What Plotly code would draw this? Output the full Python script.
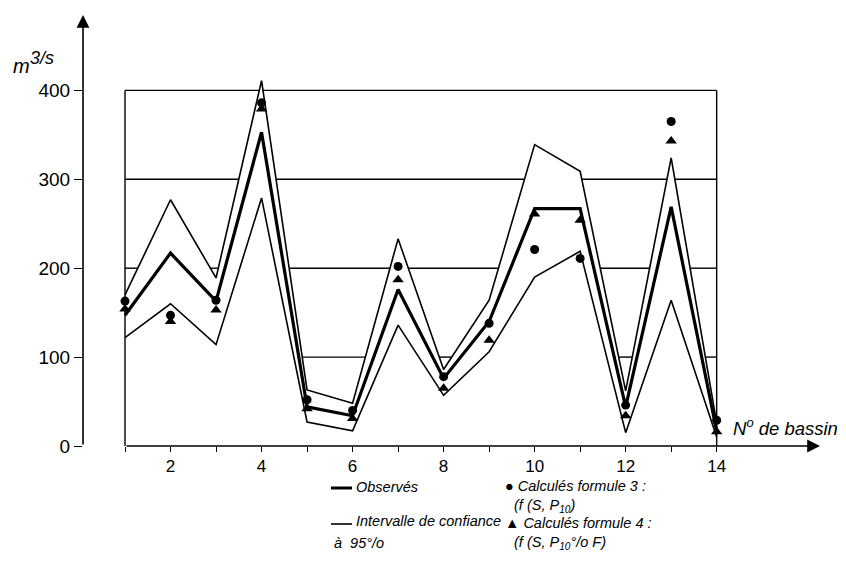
import plotly.graph_objects as go

# ---------------- data ----------------
basin = list(range(1, 15))
observed = [147, 217, 163, 353, 44, 34, 176, 76, 140, 267, 267, 44, 269, 17]
upper95 = [170, 277, 189, 411, 63, 48, 233, 86, 164, 339, 309, 62, 324, 26]
lower95 = [122, 160, 114, 279, 27, 17, 136, 57, 106, 190, 219, 15, 164, 10]
calc_f3 = [163, 147, 164, 386, 52, 40, 202, 78, 138, 221, 211, 46, 365, 29]
calc_f4 = [154, 140, 153, 379, 42, 31, 187, 65, 119, 261, 254, 34, 343, 16]
y_ticks = [0, 100, 200, 300, 400]
x_major = [b for b in basin if b % 2 == 0]
x_minor = [b for b in basin if b % 2 == 1]

# ---------------- layout geometry ----------------
W, H = 846, 566
L, R, T, B = 83, 26, 15, 120
XR = [0.077, 16.27]
YR = [0, 484.8]

def px(xpix):
    return (xpix - L) / (W - L - R)

def py(ypix):
    return (H - B - ypix) / (H - T - B)

FONT = "Liberation Sans, Arial, Helvetica, sans-serif"


def grid_segments(level, xs, ys):
    """x-intervals where the horizontal line y=level lies above the polyline (xs, ys)."""
    segs = []
    cur = None
    for i in range(len(xs) - 1):
        x0, x1, y0, y1 = xs[i], xs[i + 1], ys[i], ys[i + 1]
        if y0 < level and y1 < level:
            a, b = x0, x1
        elif y0 >= level and y1 >= level:
            a = b = None
        else:
            xc = x0 + (level - y0) * (x1 - x0) / (y1 - y0)
            a, b = (x0, xc) if y0 < level else (xc, x1)
        if a is None:
            if cur:
                segs.append(cur)
                cur = None
            continue
        if cur and abs(cur[1] - a) < 1e-9:
            cur = (cur[0], b)
        else:
            if cur:
                segs.append(cur)
            cur = (a, b)
        if b < x1 - 1e-9:
            segs.append(cur)
            cur = None
    if cur:
        segs.append(cur)
    return segs


fig = go.Figure()

fig.add_trace(go.Scatter(x=basin, y=upper95, mode="lines",
                         line=dict(color="black", width=1.6),
                         hoverinfo="skip", showlegend=False))
fig.add_trace(go.Scatter(x=basin, y=lower95, mode="lines",
                         line=dict(color="black", width=1.6),
                         hoverinfo="skip", showlegend=False))
fig.add_trace(go.Scatter(x=basin, y=observed, mode="lines",
                         line=dict(color="black", width=3.2),
                         showlegend=False))
fig.add_trace(go.Scatter(x=basin, y=calc_f4, mode="markers",
                         marker=dict(symbol="triangle-up", size=10, color="black"),
                         showlegend=False))
fig.add_trace(go.Scatter(x=basin, y=calc_f3, mode="markers",
                         marker=dict(symbol="circle", size=9, color="black"),
                         showlegend=False))

shapes = []
# horizontal reference lines inside the frame, only where they lie above the upper band
for v in y_ticks[1:]:
    for a, b in grid_segments(v, basin, upper95):
        shapes.append(dict(type="line", xref="x", yref="y", x0=a, x1=b, y0=v, y1=v,
                           line=dict(color="black", width=1.4), layer="below"))
# frame verticals
for b in (basin[0], basin[-1]):
    shapes.append(dict(type="line", xref="x", yref="y", x0=b, x1=b,
                       y0=0, y1=y_ticks[-1], line=dict(color="black", width=1.4),
                       layer="above"))

# legend line samples
shapes.append(dict(type="line", xref="paper", yref="paper", x0=px(331), x1=px(352),
                   y0=py(488), y1=py(488), line=dict(color="black", width=3)))
shapes.append(dict(type="line", xref="paper", yref="paper", x0=px(331), x1=px(352),
                   y0=py(524), y1=py(524), line=dict(color="black", width=1.6)))

annotations = []
# y axis with arrow
annotations.append(dict(x=XR[0], y=YR[1], xref="x", yref="y", ax=XR[0], ay=0,
                        axref="x", ayref="y", text="", showarrow=True,
                        arrowhead=2, arrowsize=1.6, arrowwidth=1.6, arrowcolor="black"))
# x axis with arrow
annotations.append(dict(x=XR[1], y=0, xref="x", yref="y", ax=basin[0], ay=0,
                        axref="x", ayref="y", text="", showarrow=True,
                        arrowhead=2, arrowsize=1.6, arrowwidth=1.6, arrowcolor="black"))

def txt(xpix, ypix, s, size=14.5):
    annotations.append(dict(x=px(xpix), y=py(ypix), xref="paper", yref="paper",
                            text=s, showarrow=False, xanchor="left", yanchor="middle",
                            font=dict(family=FONT, size=size, color="black")))

# axis titles
txt(11, 66, "<i>m</i>", 20)
txt(28, 58, "<i>3/s</i>", 18)
txt(731, 427, "<i>N<sup>o</sup> de bassin</i>", 18.5)

# legend texts
txt(354, 487, "<i>Observés</i>")
txt(354, 521, "<i>Intervalle de confiance</i>")
txt(332, 543, "<i>à  95°/o</i>")
txt(503, 486, "● <i>Calculés formule 3 :</i>")
txt(512, 506, "<i>(f (S, P<sub>10</sub>)</i>")
txt(503, 523, "▲ <i>Calculés formule 4 :</i>")
txt(512, 543, "<i>(f (S, P<sub>10</sub>°/o F)</i>")

fig.update_layout(
    width=W, height=H,
    margin=dict(l=L, r=R, t=T, b=B, pad=0),
    paper_bgcolor="white", plot_bgcolor="white",
    showlegend=False,
    shapes=shapes, annotations=annotations,
    xaxis=dict(range=XR, showgrid=False, zeroline=False, showline=False,
               tickmode="array", tickvals=x_major,
               ticks="outside", ticklen=5, tickwidth=1.4, tickcolor="black",
               tickfont=dict(family=FONT, size=17, color="black"),
               minor=dict(tickmode="array", tickvals=x_minor, ticks="outside",
                          ticklen=5, tickwidth=1.4, tickcolor="black", showgrid=False)),
    yaxis=dict(range=YR, showgrid=False, zeroline=False, showline=False,
               tickmode="array", tickvals=y_ticks,
               ticks="outside", ticklen=8, tickwidth=1.4, tickcolor="black",
               tickfont=dict(family=FONT, size=19, color="black")),
)

fig.write_html("out.html")
